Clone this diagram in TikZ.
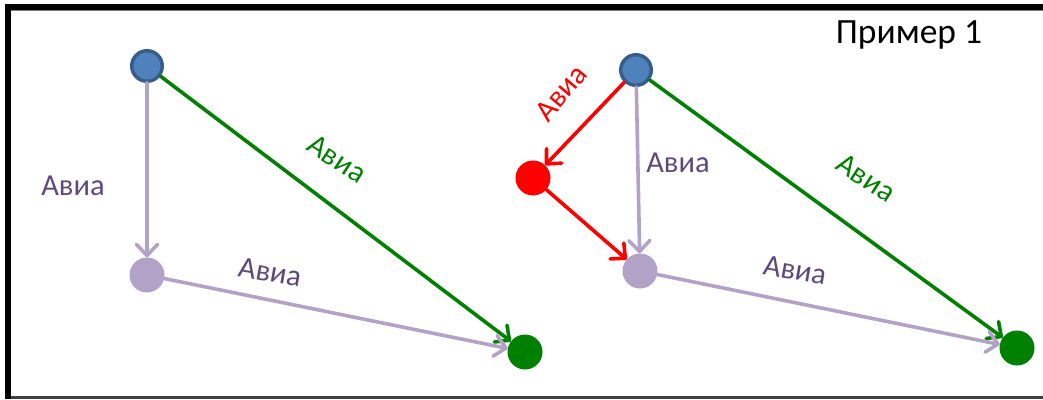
\documentclass[tikz,border=0pt]{standalone}
\usepackage{fontspec}
\setmainfont{Carlito}
\usetikzlibrary{arrows.meta}
\definecolor{bluefill}{HTML}{4F81BD}
\definecolor{blueline}{HTML}{385D8A}
\definecolor{lav}{HTML}{B3A2C7}
\definecolor{purp}{HTML}{5F497A}
\definecolor{grn}{HTML}{008000}
\definecolor{rd}{HTML}{FF0000}
\tikzset{
  bluenode/.style={circle, inner sep=0pt, minimum size=30.5pt, fill=bluefill, draw=blueline, line width=3.5pt},
  dotnode/.style={circle, inner sep=0pt, minimum size=35pt, fill=#1},
  conn/.style={draw=#1, line width=3.6pt, line cap=round, -{Straight Barb[length=11pt,width=21pt,line cap=round,line join=round]}},
  lbl/.style={font=\fontsize{30.5}{30.5}\selectfont, text=#1, inner sep=0pt},
}
\begin{document}
\begin{tikzpicture}[x=1pt,y=-1pt]
\useasboundingbox (0,0) rectangle (1043,399);
% frame
\fill[black] (5,4) rectangle (1043,10);
\fill[black] (5,4) rectangle (11,399);
\draw[gray, line width=1pt] (11,10.5) -- (1043,10.5);
\draw[black!75, line width=2.5pt] (11,397.5) -- (1043,397.5);
\node[font=\fontsize{35.5}{35.5}\selectfont, anchor=base, inner sep=0pt] (title) at (909,43) {Пример 1};
% left diagram
\node[bluenode] (a1) at (147,66) {};
\node[dotnode=lav] (b1) at (147,275) {};
\node[dotnode=grn] (c1) at (525,352) {};
\draw[conn=lav] (a1) -- (b1);
\draw[conn=grn] (a1) -- (c1);
\draw[conn=lav] (b1) -- (c1);
\node[lbl=purp] (l1) at (73,186) {Авиа};
\node[lbl=purp, rotate=-10] (l2) at (270,272) {Авиа};
\node[lbl=grn, rotate=-33] (l3) at (337,159) {Авиа};
% right diagram
\node[bluenode] (a2) at (636,70) {};
\node[dotnode=rd] (r2) at (533,178) {};
\node[dotnode=lav] (b2) at (640,271) {};
\node[dotnode=grn] (c2) at (1017,348) {};
\draw[conn=rd] (a2) -- (r2);
\draw[conn=rd] (r2) -- (b2);
\draw[conn=lav] (a2) -- (b2);
\draw[conn=grn] (a2) -- (c2);
\draw[conn=lav] (b2) -- (c2);
\node[lbl=rd, rotate=50] (l4) at (561,93) {Авиа};
\node[lbl=purp] (l5) at (678,163) {Авиа};
\node[lbl=purp, rotate=-10] (l6) at (795,270) {Авиа};
\node[lbl=grn, rotate=-33] (l7) at (866,178) {Авиа};
\end{tikzpicture}
\end{document}
